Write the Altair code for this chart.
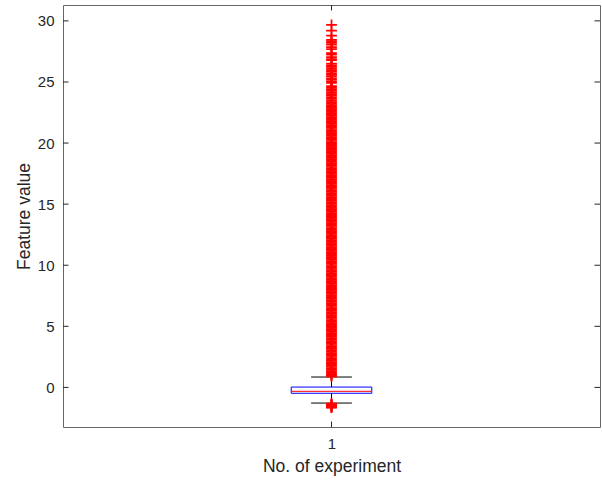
import altair as alt
import pandas as pd

# Box-plot summary for experiment 1
EXPERIMENTS = [1]
Q1 = [-0.48]
MEDIAN = [-0.32]
Q3 = [0.03]
WHISKER_LOW = [-1.28]
WHISKER_HIGH = [0.85]

# Points beyond the whiskers
OUTLIERS_LOW = [-1.32, -1.36, -1.41, -1.45, -1.5, -1.54, -1.59, -1.63, -1.66]
OUTLIERS_HIGH = [
    0.9, 0.97,
    1.02, 1.13, 1.24, 1.34, 1.45, 1.56, 1.67, 1.77, 1.88, 1.99,
    2.06, 2.17, 2.27, 2.38, 2.49, 2.6, 2.7, 2.81, 2.92,
    3.04, 3.15, 3.26, 3.36, 3.47, 3.58, 3.69, 3.79, 3.9,
    4.02, 4.13, 4.24, 4.34, 4.45, 4.56, 4.67, 4.77, 4.88, 4.99,
    5.06, 5.17, 5.27, 5.38, 5.49, 5.6, 5.7, 5.81, 5.92,
    6.04, 6.15, 6.26, 6.36, 6.47, 6.58, 6.69, 6.79, 6.9,
    7.02, 7.13, 7.24, 7.34, 7.45, 7.56, 7.67, 7.77, 7.88, 7.99,
    8.06, 8.17, 8.27, 8.38, 8.49, 8.6, 8.7, 8.81, 8.92,
    9.04, 9.15, 9.26, 9.36, 9.47, 9.58, 9.69, 9.79, 9.9,
    10.02, 10.13, 10.24, 10.34, 10.45, 10.56, 10.67, 10.77, 10.88, 10.99,
    11.06, 11.17, 11.27, 11.38, 11.49, 11.6, 11.7, 11.81, 11.92,
    12.04, 12.15, 12.26, 12.36, 12.47, 12.58, 12.69, 12.79, 12.9,
    13.02, 13.13, 13.24, 13.34, 13.45, 13.56, 13.67, 13.77, 13.88, 13.99,
    14.06, 14.17, 14.27, 14.38, 14.49, 14.6, 14.7, 14.81, 14.92,
    15.04, 15.15, 15.26, 15.36, 15.47, 15.58, 15.69, 15.79, 15.9,
    16.02, 16.13, 16.24, 16.34, 16.45, 16.56, 16.67, 16.77, 16.88, 16.99,
    17.06, 17.17, 17.27, 17.38, 17.49, 17.6, 17.7, 17.81, 17.92,
    18.04, 18.15, 18.26, 18.36, 18.47, 18.58, 18.69, 18.79, 18.9,
    19.02, 19.13, 19.24, 19.34, 19.45, 19.56, 19.67, 19.77, 19.88, 19.99,
    20.06, 20.17, 20.27, 20.38, 20.49, 20.6, 20.7, 20.81, 20.92,
    21.04, 21.15, 21.26, 21.36, 21.47, 21.58, 21.69, 21.79, 21.9,
    22.02, 22.13, 22.24, 22.34, 22.45, 22.56, 22.67, 22.77, 22.88, 22.99,
    23.1, 23.22, 23.35, 23.48, 23.62, 23.75, 23.88,
    24.01, 24.13, 24.27, 24.4, 24.52, 24.66, 24.92,
    25.05, 25.18, 25.3, 25.46, 25.58, 25.71, 25.84, 25.97,
    26.1, 26.23, 26.36, 26.5, 26.78, 26.87,
    27.04, 27.23, 27.36, 27.69, 27.86,
    28.05, 28.2, 28.33, 28.45, 28.8,
    29.21, 29.68,
]

Y_TICKS = [0, 5, 10, 15, 20, 25, 30]
X_TICKS = [1]

W, H = 537, 422
BOX_HALF = 0.075
CAP_HALF = 0.038
TICK_LEN = 5.5
INK = "#262626"
FONT = "Liberation Sans"

x_scale = alt.Scale(domain=[0.5, 1.5], nice=False, zero=False)
y_scale = alt.Scale(domain=[-3.24, 31.3], nice=False, zero=False)

x_axis = alt.Axis(values=X_TICKS, ticks=False, tickSize=0, domain=False,
                  grid=False, labelPadding=9, titlePadding=6, format="d")
y_axis = alt.Axis(values=Y_TICKS, ticks=False, tickSize=0, domain=False,
                  grid=False, labelPadding=9, titlePadding=4, format="d")

box = pd.DataFrame({
    "x": EXPERIMENTS, "q1": Q1, "med": MEDIAN, "q3": Q3,
    "lo": WHISKER_LOW, "hi": WHISKER_HIGH,
})
box["left"] = box["x"] - BOX_HALF
box["right"] = box["x"] + BOX_HALF
box["cl"] = box["x"] - CAP_HALF
box["cr"] = box["x"] + CAP_HALF

outl = pd.DataFrame({
    "x": EXPERIMENTS[0],
    "v": OUTLIERS_LOW + OUTLIERS_HIGH,
})


def X(field):
    return alt.X(field, type="quantitative", scale=x_scale, axis=x_axis,
                 title="No. of experiment")


def Y(field):
    return alt.Y(field, type="quantitative", scale=y_scale, axis=y_axis,
                 title="Feature value")


base_box = alt.Chart(box)

rect = base_box.mark_rect(fill="white", stroke="#0000ff", strokeWidth=1).encode(
    x=X("left"), x2="right", y=Y("q1"), y2="q3"
)
median = base_box.mark_rule(color="#ff0000", strokeWidth=1).encode(
    x=X("left"), x2="right", y=Y("med")
)
whisk_hi = base_box.mark_rule(color="#000000", strokeWidth=1).encode(
    x=X("x"), y=Y("q3"), y2="hi"
)
whisk_lo = base_box.mark_rule(color="#000000", strokeWidth=1).encode(
    x=X("x"), y=Y("q1"), y2="lo"
)
cap_hi = base_box.mark_rule(color="#000000", strokeWidth=1).encode(
    x=X("cl"), x2="cr", y=Y("hi")
)
cap_lo = base_box.mark_rule(color="#000000", strokeWidth=1).encode(
    x=X("cl"), x2="cr", y=Y("lo")
)

points = alt.Chart(outl).mark_point(
    shape="M-1,0L1,0M0,-1L0,1", filled=False, stroke="#ff0000",
    strokeWidth=1.7, size=115, opacity=1,
).encode(x=X("x"), y=Y("v"))

# inward tick marks on all four sides
yt = alt.Chart(pd.DataFrame({"v": Y_TICKS}))
xt = alt.Chart(pd.DataFrame({"v": X_TICKS}))
tick_style = dict(color=INK, strokeWidth=1)
y_left = yt.mark_rule(**tick_style).encode(
    y=Y("v"), x=alt.value(0), x2=alt.value(TICK_LEN))
y_right = yt.mark_rule(**tick_style).encode(
    y=Y("v"), x=alt.value(W - TICK_LEN), x2=alt.value(W))
x_bottom = xt.mark_rule(**tick_style).encode(
    x=X("v"), y=alt.value(H - TICK_LEN), y2=alt.value(H))
x_top = xt.mark_rule(**tick_style).encode(
    x=X("v"), y=alt.value(0), y2=alt.value(TICK_LEN))

chart = alt.layer(
    rect, median, whisk_hi, whisk_lo, cap_hi, cap_lo, points,
    y_left, y_right, x_bottom, x_top,
).properties(
    width=W, height=H,
    autosize=alt.AutoSizeParams(type="none"),
    padding={"left": 63, "top": 5, "right": 2, "bottom": 53},
    background="white",
).configure_view(
    stroke="#666666", strokeWidth=1,
).configure_axis(
    labelFont=FONT, titleFont=FONT, labelFontSize=15, titleFontSize=17.5,
    labelColor=INK, titleColor=INK, titleFontWeight="normal",
)

chart.save("out.html", embed_options={"renderer": "svg", "actions": False})
